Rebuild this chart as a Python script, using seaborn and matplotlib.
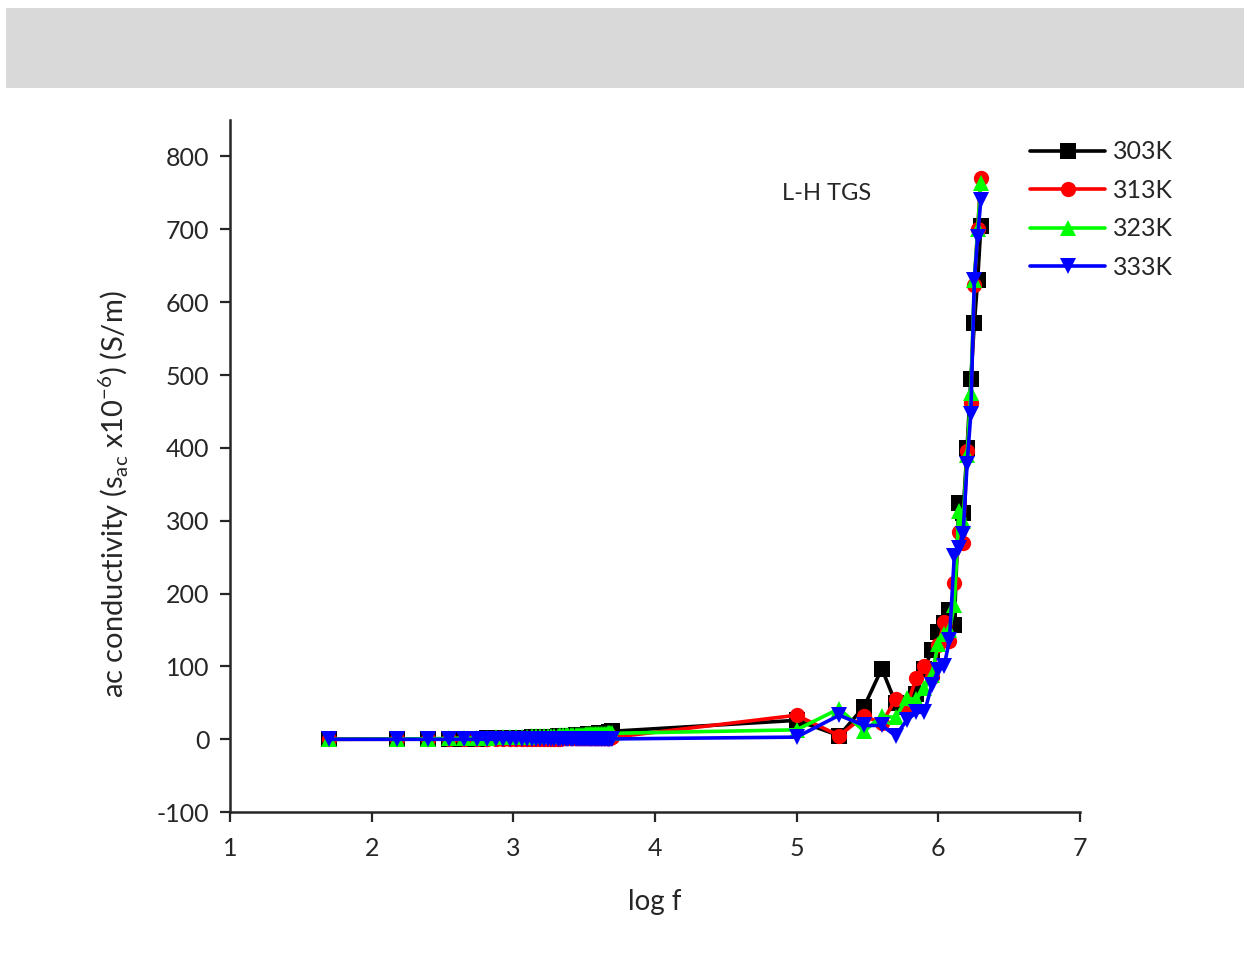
import numpy as np
import pandas as pd
import seaborn as sns
import matplotlib.pyplot as plt
from matplotlib.patches import Rectangle

# frequencies in Hz (low range, 50 Hz .. 4.95 kHz)
freq_low = [50, 150, 250, 350, 450, 550, 650, 750, 850, 950,
            1050, 1150, 1250, 1350, 1450, 1550, 1650, 1750, 1850, 1950,
            2050, 2150, 2250, 2350, 2450, 2550, 2650, 2750, 2850, 2950,
            3050, 3150, 3250, 3350, 3450, 3550, 3650, 3750, 3850, 3950,
            4050, 4150, 4250, 4350, 4450, 4550, 4650, 4750, 4850, 4950]
# frequencies in kHz (high range, 100 kHz .. 2 MHz)
freq_high = [100, 200, 300, 400, 500, 600, 700, 800, 900, 1000,
             1100, 1200, 1300, 1400, 1500, 1600, 1700, 1800, 1900, 2000]

black_low = [0.0, 0.2, 0.4, 0.6, 0.8, 1.0, 1.2, 1.4, 1.6, 1.8,
             2.0, 2.2, 2.4, 2.6, 2.8, 3.0, 3.2, 3.4, 3.6, 3.8,
             4.0, 4.2, 4.4, 4.6, 4.8, 5.0, 5.2, 5.4, 5.6, 5.8,
             6.0, 6.2, 6.4, 6.6, 6.8, 7.0, 7.2, 7.4, 7.6, 7.8,
             8.0, 8.2, 8.4, 8.6, 8.8, 9.0, 9.2, 9.5, 10.0, 11.0]
red_low = [0.0, 0.0, 0.1, 0.1, 0.2, 0.2, 0.3, 0.3, 0.4, 0.4,
           0.5, 0.5, 0.6, 0.6, 0.7, 0.7, 0.8, 0.8, 0.9, 0.9,
           1.0, 1.0, 1.1, 1.1, 1.2, 1.2, 1.3, 1.3, 1.4, 1.4,
           1.5, 1.5, 1.6, 1.6, 1.7, 1.7, 1.8, 1.8, 1.9, 1.9,
           2.0, 2.0, 2.1, 2.1, 2.2, 2.2, 2.3, 2.3, 2.4, 2.5]
green_low = [0.0, 0.3, 0.8, 1.2, 1.6, 2.0, 2.3, 2.6, 2.9, 3.1,
             3.3, 3.5, 3.7, 3.9, 4.1, 4.3, 4.5, 4.6, 4.8, 5.0,
             5.1, 5.3, 5.4, 5.6, 5.7, 5.8, 6.0, 6.1, 6.2, 6.3,
             6.4, 6.5, 6.6, 6.7, 6.8, 6.9, 7.0, 7.1, 7.2, 7.3,
             7.4, 7.5, 7.6, 7.7, 7.8, 7.9, 8.0, 8.0, 8.1, 8.2]
blue_low = [0.0, 0.0, 0.0, 0.0, 0.0, 0.0, 0.0, 0.0, 0.0, 0.0,
            0.0, 0.0, 0.0, 0.0, 0.0, 0.0, 0.0, 0.0, 0.0, 0.0,
            0.0, 0.0, 0.0, 0.0, 0.0, 0.0, 0.0, 0.0, 0.0, 0.0,
            0.0, 0.0, 0.0, 0.0, 0.0, 0.0, 0.0, 0.0, 0.0, 0.0,
            0.0, 0.0, 0.0, 0.0, 0.0, 0.0, 0.0, 0.0, 0.0, 0.5]

black_high = [26, 5, 45, 97, 50, 45, 62, 97, 122, 147,
              160, 177, 157, 325, 311, 400, 495, 571, 630, 704]
red_high = [33, 5, 32, 22, 55, 45, 84, 101, 85, 130,
            161, 135, 214, 284, 269, 396, 462, 623, 700, 771]
green_high = [13, 42, 11, 32, 30, 56, 55, 70, 88, 131,
              145, 150, 184, 314, 300, 390, 476, 630, 700, 763]
blue_high = [3, 33, 19, 19, 5, 26, 37, 37, 74, 95,
             100, 136, 252, 263, 282, 378, 447, 630, 690, 740]

labels = ['303K', '313K', '323K', '333K']
colors = ['black', 'red', '#00ff00', 'blue']
markers = ['s', 'o', '^', 'v']

logf = list(np.log10(freq_low)) + list(np.log10(np.array(freq_high) * 1000))
rows = []
for lab, lo, hi in zip(labels, [black_low, red_low, green_low, blue_low],
                       [black_high, red_high, green_high, blue_high]):
    for x, y in zip(logf, lo + hi):
        rows.append({'log f': x, 'sigma': y, 'T': lab})
df = pd.DataFrame(rows)

sns.set_style('ticks')
plt.rcParams['font.family'] = ['Lato', 'DejaVu Sans']
plt.rcParams['axes.unicode_minus'] = False

fig = plt.figure(figsize=(12.44, 9.68), dpi=100)
fig.patches.append(Rectangle((0.005, 0.909), 0.995, 0.083, transform=fig.transFigure,
                             facecolor='#d9d9d9', edgecolor='none', zorder=0))
ax = fig.add_axes([0.185, 0.161, 0.683, 0.715])

sns.lineplot(data=df, x='log f', y='sigma', hue='T', style='T',
             hue_order=labels, style_order=labels,
             palette=dict(zip(labels, colors)), markers=dict(zip(labels, markers)),
             dashes=False, estimator=None, sort=True, linewidth=2.6,
             markersize=11, markeredgewidth=0, ax=ax)

ax.set_xlim(1, 7)
ax.set_ylim(-100, 850)
ax.set_xticks(range(1, 8))
ax.set_yticks(range(-100, 801, 100))
ax.tick_params(labelsize=18, width=1.6, length=7, direction='out', pad=8)
ax.tick_params(axis='x', pad=11)
for s in ['left', 'bottom']:
    ax.spines[s].set_linewidth(1.8)
sns.despine(ax=ax)

ax.set_xlabel('log f', fontsize=20, labelpad=21)
ax.set_ylabel(r'ac conductivity (s$_{\mathregular{ac}}$ x10$^{\mathregular{-6}}$) (S/m)',
              fontsize=21)
ax.yaxis.set_label_coords(-0.117, 0.46)
ax.text(4.9, 740, 'L-H TGS', fontsize=17)

handles, labs = ax.get_legend_handles_labels()
ax.legend(handles, labs, loc='upper left', bbox_to_anchor=(0.93, 0.985), frameon=False,
          fontsize=18, handlelength=3.0, labelspacing=0.62, handletextpad=0.3,
          borderaxespad=0)

fig.savefig('out.png', dpi=100)
